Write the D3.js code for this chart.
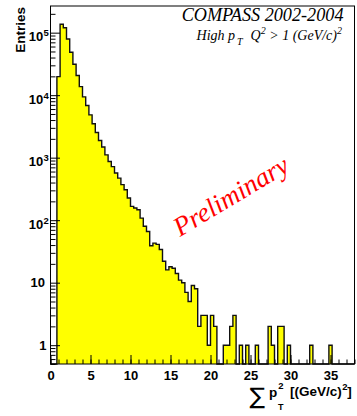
<!DOCTYPE html>
<html>
<head>
<meta charset="utf-8">
<script src="https://cdn.jsdelivr.net/npm/d3@7/dist/d3.min.js"></script>
<style>
  html, body { margin: 0; padding: 0; background: #fff; }
  svg { display: block; }
</style>
</head>
<body>
<svg id="chart" width="357" height="416"></svg>
<script>
// Sum of pT^2 spectrum, bins of 0.4 (GeV/c)^2 from 0 to 38
const binWidth = 0.4;
const entries = [
  0, 0, 19800, 136000, 120000, 79300, 48600, 31300, 20600, 13700,
  9390, 6820, 4840, 3480, 2530, 1880, 1480, 1110, 870, 720,
  570, 470, 370, 307, 226, 166, 157, 147, 108, 80,
  66, 39, 43, 41, 34, 22, 16, 18, 17, 14,
  11, 10, 7, 5, 9, 8, 2, 3, 3, 1,
  3, 2, 0, 0, 1, 1, 2, 3, 0, 1,
  0, 1, 0, 0, 1, 0, 0, 0, 2, 1,
  0, 2, 2, 0, 1, 0, 0, 0, 0, 0,
  0, 1, 0, 0, 0, 0, 0, 1, 0, 0,
  0, 0, 0, 0, 0
];
const xMajorTicks = [0, 5, 10, 15, 20, 25, 30, 35];
const xMinorTicks = d3.range(0, 39, 1);
const yDecades = [1, 10, 100, 1000, 10000, 100000];
const yDecadeExponents = [0, 1, 2, 3, 4, 5];
const xRange = [0, 38];
const yRange = [0.5, 2.67e5];

const svg = d3.select("#chart");
const L = 50.5, R = 354.5, T = 6, B = 364;

const x = d3.scaleLinear().domain(xRange).range([L, R]);
const y = d3.scaleLog().domain(yRange).range([B, T]);
const yv = v => y(Math.max(v, yRange[0]));

// step outline points
const pts = [[0, yRange[0]]];
entries.forEach((v, i) => {
  const lo = i * binWidth, hi = (i + 1) * binWidth;
  pts.push([lo, v], [hi, v]);
});
pts.push([entries.length * binWidth, yRange[0]]);

const area = d3.area()
  .x(d => x(d[0]))
  .y0(B)
  .y1(d => yv(d[1]));
const line = d3.line()
  .x(d => x(d[0]))
  .y(d => yv(d[1]));

svg.append("path")
  .attr("d", area(pts))
  .attr("fill", "#ffff00")
  .attr("stroke", "none");
svg.append("path")
  .attr("d", line(pts))
  .attr("fill", "none")
  .attr("stroke", "#111")
  .attr("stroke-width", 1.4);

// frame
svg.append("rect")
  .attr("x", L).attr("y", T)
  .attr("width", R - L).attr("height", B - T)
  .attr("fill", "none")
  .attr("stroke", "#000")
  .attr("stroke-width", 1);

// x axis ticks (inside)
const gx = svg.append("g").attr("transform", `translate(0,${B})`);
gx.append("g").call(d3.axisBottom(x).tickValues(xMinorTicks).tickSize(-4.5).tickSizeOuter(0).tickFormat(""));
gx.append("g").call(d3.axisBottom(x).tickValues(xMajorTicks).tickSize(-9).tickSizeOuter(0).tickPadding(7));
gx.selectAll(".domain").remove();
gx.selectAll("line").attr("stroke", "#000").attr("stroke-width", 1);
gx.selectAll("text")
  .attr("font-family", "'Liberation Sans', Arial, sans-serif")
  .attr("font-weight", "bold")
  .attr("font-size", 13)
  .attr("fill", "#000");

// y axis ticks (inside), log minor ticks at 2..9
const yMinor = [];
for (let e = -1; e <= 5; e++) {
  for (let k = 2; k <= 9; k++) {
    const v = k * Math.pow(10, e);
    if (v >= yRange[0] && v <= yRange[1]) yMinor.push(v);
  }
}
const gy = svg.append("g").attr("transform", `translate(${L},0)`);
gy.append("g").call(d3.axisLeft(y).tickValues(yMinor).tickSize(-5).tickSizeOuter(0).tickFormat(""));
gy.append("g").call(d3.axisLeft(y).tickValues(yDecades).tickSize(-9.5).tickSizeOuter(0).tickFormat(""));
gy.selectAll(".domain").remove();
gy.selectAll("line").attr("stroke", "#000").attr("stroke-width", 1);

// y decade labels
const lab = svg.append("g")
  .attr("font-family", "'Liberation Sans', Arial, sans-serif")
  .attr("font-weight", "bold")
  .attr("fill", "#000");
yDecades.forEach((v, i) => {
  const n = yDecadeExponents[i];
  const ty = y(v);
  if (n === 0) {
    lab.append("text").attr("x", 46.5).attr("y", ty + 4.7)
      .attr("text-anchor", "end").attr("font-size", 13).text("1");
  } else if (n === 1) {
    lab.append("text").attr("x", 45).attr("y", ty + 4.7)
      .attr("text-anchor", "end").attr("font-size", 13).text("10");
  } else {
    lab.append("text").attr("x", 43.3).attr("y", ty + 8.5)
      .attr("text-anchor", "end").attr("font-size", 13).text("10");
    lab.append("text").attr("x", 43.6).attr("y", ty + 3.6)
      .attr("text-anchor", "start").attr("font-size", 9.5).text(String(n));
  }
});

// y axis title
svg.append("text")
  .attr("transform", "translate(24.5,7) rotate(-90)")
  .attr("text-anchor", "end")
  .attr("font-family", "'Liberation Sans', Arial, sans-serif")
  .attr("font-weight", "bold")
  .attr("font-size", 13.5)
  .attr("fill", "#000")
  .text("Entries");

// x axis title: sum of pT^2 [(GeV/c)^2]
const xt = svg.append("g")
  .attr("font-family", "'Liberation Sans', Arial, sans-serif")
  .attr("font-weight", "bold")
  .attr("fill", "#000");
xt.append("text").attr("x", 249.5).attr("y", 404)
  .attr("font-family", "'DejaVu Sans', sans-serif").attr("font-weight", "normal")
  .attr("font-size", 23).text("\u2211");
xt.append("text").attr("x", 269).attr("y", 397).attr("font-size", 13.5).text("p");
xt.append("text").attr("x", 278.3).attr("y", 389).attr("font-size", 9.5).text("2");
xt.append("text").attr("x", 278).attr("y", 410).attr("font-size", 9).text("T");
xt.append("text").attr("x", 290).attr("y", 396).attr("font-size", 13.5).text("[(GeV/c)");
xt.append("text").attr("x", 342.3).attr("y", 389.5).attr("font-size", 9.5).text("2");
xt.append("text").attr("x", 347.3).attr("y", 396).attr("font-size", 13.5).text("]");

// experiment label
const serif = "'Liberation Serif', 'Times New Roman', serif";
svg.append("text")
  .attr("x", 343.5).attr("y", 20.8)
  .attr("text-anchor", "end")
  .attr("font-family", serif).attr("font-style", "italic")
  .attr("font-size", 18.2).attr("fill", "#000")
  .text("COMPASS 2002-2004");

const l2 = svg.append("text")
  .attr("x", 342).attr("y", 39.5)
  .attr("text-anchor", "end")
  .attr("font-family", serif).attr("font-style", "italic")
  .attr("font-size", 14).attr("fill", "#000");
l2.append("tspan").text("High p");
l2.append("tspan").attr("font-size", 10).attr("dy", 5).attr("dx", 2).text("T");
l2.append("tspan").attr("dy", -5).attr("dx", 8).text("Q");
l2.append("tspan").attr("font-size", 10).attr("dy", -6).text("2");
l2.append("tspan").attr("dy", 6).text(" > 1 (GeV/c)");
l2.append("tspan").attr("font-size", 10).attr("dy", -6).text("2");

// preliminary stamp
svg.append("text")
  .attr("transform", "translate(180,237) rotate(-31)")
  .attr("font-family", serif).attr("font-style", "italic")
  .attr("font-size", 27).attr("fill", "#ff0000")
  .text("Preliminary");
</script>
</body>
</html>
